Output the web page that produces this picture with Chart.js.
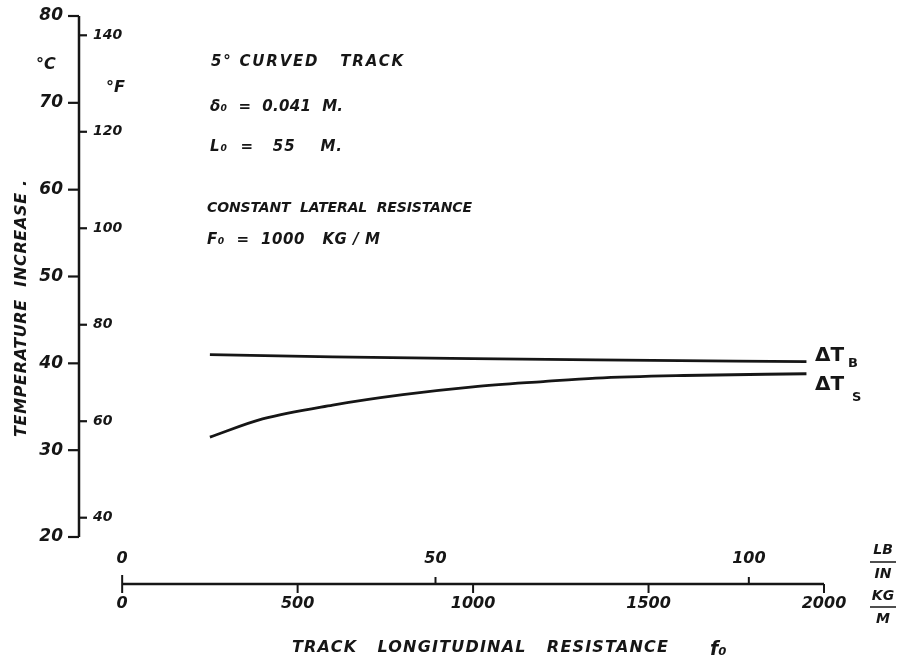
<!DOCTYPE html>
<html>
<head>
<meta charset="utf-8">
<script src="https://cdn.jsdelivr.net/npm/chart.js@4.4.1/dist/chart.umd.min.js"></script>
<style>
  html, body { margin: 0; padding: 0; background: #fff; }
  #wrap { width: 907px; height: 670px; }
</style>
</head>
<body>
<div id="wrap"><canvas id="tempChart" width="907" height="670"></canvas></div>
<script>
// values
const resistKg = [250, 400, 600, 800, 1000, 1200, 1350, 1600, 1950];
const deltaTs = [31.5, 33.6, 35.2, 36.4, 37.3, 37.9, 38.3, 38.6, 38.8];
const resistKgB = [250, 600, 1000, 1350, 1950];
const deltaTb = [41.0, 40.75, 40.55, 40.4, 40.2];

const celsiusTicks = [20, 30, 40, 50, 60, 70, 80];
const fahrenheitTicks = [40, 60, 80, 100, 120, 140];
const kgTicks = [0, 500, 1000, 1500, 2000];
const lbTicks = [0, 50, 100];

const KG_PER_LB_IN = 17.858;
const ink = "#161616";
const hand = "'DejaVu Sans', sans-serif";

function toPoints(xs, ys) {
    return xs.map((x, i) => ({ x: x, y: ys[i] }));
}

// draw text so it spans a given width, like the hand lettering
function fitText(ctx, text, x, y, width, font) {
    ctx.font = font;
    ctx.letterSpacing = "0px";
    const w = ctx.measureText(text).width;
    const n = [...text].length;
    if (width && n > 1) {
        ctx.letterSpacing = ((width - w) / (n - 1)).toFixed(2) + "px";
    }
    ctx.fillText(text, x, y);
    ctx.letterSpacing = "0px";
}

// the vertical scales should not push the plot down
function noPad(s) {
    s.paddingTop = 0;
    s.paddingBottom = 0;
}

const axesPlugin = {
    id: "handAxes",
    afterDraw(chart) {
        const ctx = chart.ctx;
        const area = chart.chartArea;
        const x = chart.scales.x;
        const x2 = chart.scales.x2;
        const y = chart.scales.y;
        const y2 = chart.scales.y2;
        ctx.save();
        ctx.strokeStyle = ink;
        ctx.fillStyle = ink;
        ctx.lineCap = "butt";

        // vertical temperature axis
        ctx.lineWidth = 2.5;
        ctx.beginPath();
        ctx.moveTo(area.left, y.getPixelForValue(80));
        ctx.lineTo(area.left, y.getPixelForValue(20));
        ctx.stroke();
        ctx.lineWidth = 2.2;
        celsiusTicks.forEach((c) => {
            const py = y.getPixelForValue(c);
            ctx.beginPath();
            ctx.moveTo(area.left - 11, py);
            ctx.lineTo(area.left, py);
            ctx.stroke();
        });
        fahrenheitTicks.forEach((f) => {
            const py = y2.getPixelForValue(f);
            ctx.beginPath();
            ctx.moveTo(area.left, py);
            ctx.lineTo(area.left + 8, py);
            ctx.stroke();
        });

        // horizontal resistance axis, set below the plot
        const ay = 584;
        ctx.lineWidth = 2.5;
        ctx.beginPath();
        ctx.moveTo(x.getPixelForValue(0), ay);
        ctx.lineTo(x.getPixelForValue(2000), ay);
        ctx.stroke();
        ctx.lineWidth = 2;
        kgTicks.forEach((k) => {
            const px = x.getPixelForValue(k);
            ctx.beginPath();
            ctx.moveTo(px, k === 0 ? ay - 9 : ay);
            ctx.lineTo(px, ay + 9);
            ctx.stroke();
        });
        lbTicks.slice(1).forEach((l) => {
            const px = x2.getPixelForValue(l);
            ctx.beginPath();
            ctx.moveTo(px, ay - 7);
            ctx.lineTo(px, ay);
            ctx.stroke();
        });

        // lettering
        ctx.textBaseline = "middle";
        ctx.textAlign = "left";
        const fNote = "italic bold 15px " + hand;
        fitText(ctx, "5° CURVED   TRACK", 211, 62, 192, fNote);
        fitText(ctx, "δ₀  =  0.041  M.", 210, 107, 133, fNote);
        fitText(ctx, "L₀  =   55    M.", 210, 147, 132, fNote);
        fitText(ctx, "CONSTANT  LATERAL  RESISTANCE", 207, 208, 265, "italic bold 14px " + hand);
        fitText(ctx, "F₀  =  1000   KG / M", 207, 240, 173, fNote);

        fitText(ctx, "°C", 36, 65, 0, "italic bold 16px " + hand);
        fitText(ctx, "°F", 106, 88, 0, "italic bold 16px " + hand);

        // y title, rotated
        ctx.save();
        ctx.translate(22, 437);
        ctx.rotate(-Math.PI / 2);
        fitText(ctx, "TEMPERATURE  INCREASE .", 0, 0, 257, "italic bold 16px " + hand);
        ctx.restore();

        // x title
        fitText(ctx, "TRACK   LONGITUDINAL   RESISTANCE", 292, 648, 376, "italic bold 16px " + hand);
        fitText(ctx, "f₀", 710, 650, 0, "italic bold 19px " + hand);

        // unit fractions
        ctx.textAlign = "center";
        ctx.font = "italic bold 14px " + hand;
        ctx.fillText("LB", 883, 550);
        ctx.fillText("IN", 883, 574);
        ctx.fillText("KG", 883, 596);
        ctx.fillText("M", 883, 619);
        ctx.lineWidth = 1.6;
        ctx.beginPath();
        ctx.moveTo(870, 562);
        ctx.lineTo(896, 562);
        ctx.moveTo(870, 607);
        ctx.lineTo(896, 607);
        ctx.stroke();

        // curve labels
        ctx.textAlign = "left";
        const lx = x.getPixelForValue(2000) - 9;
        ctx.font = "bold 20px " + hand;
        ctx.fillText("ΔT", lx, 356);
        ctx.fillText("ΔT", lx, 385);
        ctx.font = "bold 13px " + hand;
        ctx.fillText("B", lx + 33, 364);
        ctx.fillText("S", lx + 37, 398);
        ctx.restore();
    },
};

const tickFontBig = { family: hand, size: 16, style: "italic", weight: "bold" };
const tickFontSmall = { family: hand, size: 14, style: "italic", weight: "bold" };

new Chart(document.getElementById("tempChart"), {
    type: "line",
    data: {
        datasets: [
            {
                label: "ΔT B",
                data: toPoints(resistKgB, deltaTb),
                borderColor: ink,
                borderWidth: 2.8,
                pointRadius: 0,
                cubicInterpolationMode: "monotone",
                fill: false,
            },
            {
                label: "ΔT S",
                data: toPoints(resistKg, deltaTs),
                borderColor: ink,
                borderWidth: 2.8,
                pointRadius: 0,
                cubicInterpolationMode: "monotone",
                fill: false,
            },
        ],
    },
    options: {
        responsive: false,
        animation: false,
        devicePixelRatio: 1,
        layout: { padding: { top: 16, right: 83, bottom: 0, left: 0 } },
        plugins: {
            legend: { display: false },
            tooltip: { enabled: false },
        },
        scales: {
            x: {
                type: "linear",
                position: "bottom",
                weight: 2,
                min: -123,
                max: 2000,
                grid: { display: false, drawTicks: false },
                border: { display: false },
                afterBuildTicks: (s) => { s.ticks = kgTicks.map((v) => ({ value: v })); },
                afterFit: (s) => { s.height = 101; },
                ticks: {
                    color: ink,
                    font: tickFontBig,
                    padding: 25,
                    maxRotation: 0,
                    callback: (v) => String(v),
                },
            },
            x2: {
                type: "linear",
                position: "bottom",
                weight: 1,
                min: -123 / KG_PER_LB_IN,
                max: 2000 / KG_PER_LB_IN,
                grid: { display: false, drawTicks: false },
                border: { display: false },
                afterBuildTicks: (s) => { s.ticks = lbTicks.map((v) => ({ value: v })); },
                afterFit: (s) => { s.height = 32; },
                ticks: {
                    color: ink,
                    font: tickFontBig,
                    padding: 12,
                    maxRotation: 0,
                    callback: (v) => String(v),
                },
            },
            y: {
                type: "linear",
                position: "left",
                weight: 2,
                min: 20,
                max: 80,
                grid: { display: false, drawTicks: false },
                border: { display: false },
                afterBuildTicks: (s) => { s.ticks = celsiusTicks.map((v) => ({ value: v })); },
                afterFit: (s) => { s.width = 79; noPad(s); },
                ticks: {
                    color: ink,
                    font: { family: hand, size: 17, style: "italic", weight: "bold" },
                    padding: 16,
                    callback: (v) => String(v),
                },
            },
            y2: {
                type: "linear",
                position: "left",
                weight: 1,
                min: 36,
                max: 144,
                grid: { display: false, drawTicks: false },
                border: { display: false },
                afterBuildTicks: (s) => { s.ticks = fahrenheitTicks.map((v) => ({ value: v })); },
                afterFit: (s) => { s.width = 0; noPad(s); },
                ticks: {
                    color: ink,
                    font: tickFontSmall,
                    mirror: true,
                    padding: 14,
                    callback: (v) => String(v),
                },
            },
        },
    },
    plugins: [axesPlugin],
});
</script>
</body>
</html>
